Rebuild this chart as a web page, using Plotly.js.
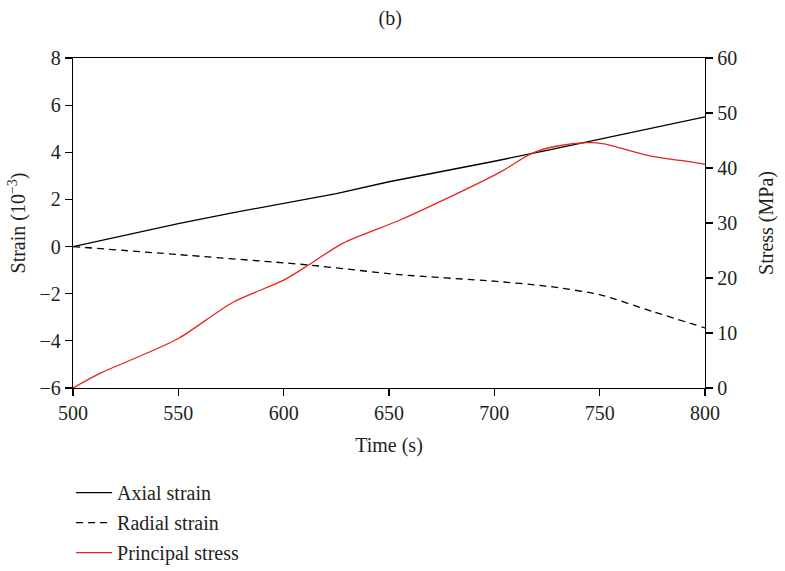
<!DOCTYPE html>
<html>
<head>
<meta charset="utf-8">
<script src="https://cdn.plot.ly/plotly-3.0.1.min.js"></script>
<style>html,body{margin:0;padding:0;background:#fff;}#chart{width:785px;height:571px;}</style>
</head>
<body>
<div id="chart"></div>
<script>
// Time (s)
const axialTime = [500, 525, 550, 575, 600, 625, 650, 675, 700, 725, 750, 775, 800];
const axialStrain = [0, 0.5, 0.97, 1.42, 1.83, 2.25, 2.75, 3.18, 3.62, 4.08, 4.55, 5.03, 5.5];

const radialTime = [500, 550, 600, 613, 655, 700, 725, 750, 775, 800];
const radialStrain = [0, -0.34, -0.69, -0.79, -1.19, -1.47, -1.68, -2.04, -2.75, -3.45];

const stressTime = [500, 513, 530, 550, 576, 600, 612, 628, 655, 676, 703, 718, 730, 744, 752, 760, 775, 790, 800];
const principalStress = [0, 2.7, 5.5, 9.0, 15.6, 19.6, 22.4, 26.3, 30.5, 34.2, 39.3, 42.7, 44.0, 44.6, 44.4, 43.6, 42.1, 41.3, 40.7];

const xTicks = [500, 550, 600, 650, 700, 750, 800];
const yTicks = [-6, -4, -2, 0, 2, 4, 6, 8];
const y2Ticks = [0, 10, 20, 30, 40, 50, 60];

const font = 'Liberation Serif, Times New Roman, serif';
const ink = '#231f20';
const fs = 20;

const traces = [
  {x: axialTime, y: axialStrain, name: 'Axial strain', type: 'scatter', mode: 'lines',
   line: {color: '#000', width: 1.3}, legendgroup: 'a', yaxis: 'y'},
  {x: radialTime, y: radialStrain, name: 'Radial strain', type: 'scatter', mode: 'lines',
   line: {color: '#000', width: 1.3, dash: '7px,5px', shape: 'spline', smoothing: 0.6}, legendgroup: 'b', yaxis: 'y'},
  {x: stressTime, y: principalStress, name: 'Principal stress', type: 'scatter', mode: 'lines',
   line: {color: '#e8251d', width: 1.3, shape: 'spline', smoothing: 0.8}, legendgroup: 'c', yaxis: 'y2'}
];

const minus = v => (v < 0 ? '\u2212' + Math.abs(v) : String(v));

const layout = {
  width: 785, height: 571,
  margin: {l: 73, r: 80, t: 58, b: 183, autoexpand: false},
  paper_bgcolor: '#fff', plot_bgcolor: '#fff',
  font: {family: font, size: fs, color: ink},
  title: {text: '(b)', x: 0.497, xanchor: 'center', y: 1 - 18/571, yanchor: 'middle', yref: 'container',
          font: {family: font, size: fs, color: ink}},
  showlegend: true,
  legend: {orientation: 'v', x: -0.003, xanchor: 'left', y: -0.258, yanchor: 'top',
           font: {family: font, size: fs, color: ink}, tracegroupgap: 1,
           itemwidth: 36, bgcolor: 'rgba(0,0,0,0)'},
  xaxis: {range: [500, 800], tickvals: xTicks, ticktext: xTicks.map(String),
          showgrid: false, zeroline: false, showline: true, linecolor: '#000', linewidth: 1.2,
          mirror: true, ticks: 'outside', ticklen: 7, tickcolor: '#000', tickwidth: 1.2,
          tickfont: {family: font, size: fs, color: ink},
          title: {text: 'Time (s)', font: {family: font, size: fs, color: ink}, standoff: 14}},
  yaxis: {range: [-6, 8], tickvals: yTicks, ticktext: yTicks.map(minus),
          showgrid: false, zeroline: false, showline: true, linecolor: '#000', linewidth: 1.2,
          ticks: 'outside', ticklen: 7, tickcolor: '#000', tickwidth: 1.2,
          tickfont: {family: font, size: fs, color: ink},
          title: {text: 'Strain (10<sup>\u22123</sup>)', font: {family: font, size: fs, color: ink}, standoff: 8}},
  yaxis2: {range: [0, 60], tickvals: y2Ticks, ticktext: y2Ticks.map(String), overlaying: 'y', side: 'right',
           showgrid: false, zeroline: false, showline: true, linecolor: '#000', linewidth: 1.2,
           ticks: 'outside', ticklen: 7, tickcolor: '#000', tickwidth: 1.2,
           tickfont: {family: font, size: fs, color: ink},
           title: {text: 'Stress (MPa)', font: {family: font, size: fs, color: ink}, standoff: 22}}
};

Plotly.newPlot('chart', traces, layout, {displayModeBar: false, staticPlot: true});
</script>
</body>
</html>
